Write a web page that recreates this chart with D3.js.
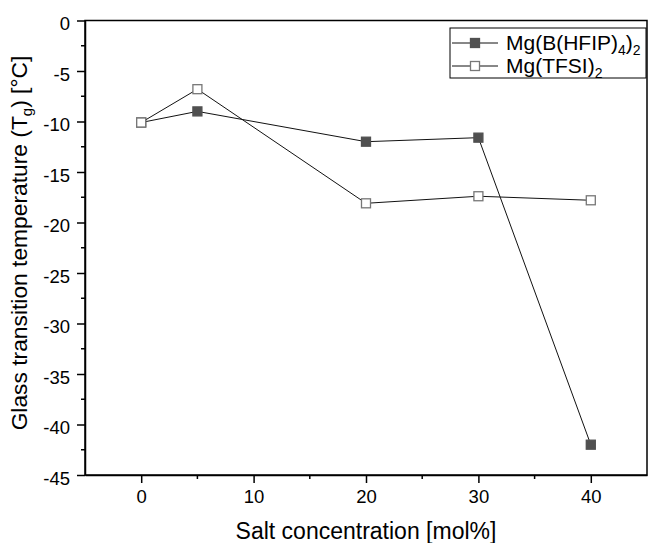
<!DOCTYPE html>
<html>
<head>
<meta charset="utf-8">
<script src="https://cdn.jsdelivr.net/npm/d3@7"></script>
<style>
  body { margin: 0; background: #fff; }
  text { font-family: "Liberation Sans", Arial, sans-serif; }
</style>
</head>
<body>
<div id="chart"></div>
<script>
// salt concentration (mol%) and Tg values per salt
const concentrations = [0, 5, 20, 30, 40];
const tgHFIP = [-10.1, -9.0, -12.0, -11.6, -42.0];
const tgTFSI = [-10.1, -6.8, -18.1, -17.4, -17.8];
const xTicks = [0, 10, 20, 30, 40];
const yTicks = [0, -5, -10, -15, -20, -25, -30, -35, -40, -45];

const W = 648, H = 543;
const margin = { left: 85, right: 1, top: 20.5, bottom: 68 };

const svg = d3.select("#chart").append("svg")
  .attr("width", W).attr("height", H);

const x = d3.scaleLinear().domain([-5, 45]).range([margin.left, W - margin.right]);
const y = d3.scaleLinear().domain([-45, 0]).range([H - margin.bottom, margin.top]);

// frame
svg.append("rect")
  .attr("x", x(-5)).attr("y", y(0))
  .attr("width", x(45) - x(-5)).attr("height", y(-45) - y(0))
  .attr("fill", "none").attr("stroke", "#000").attr("stroke-width", 1.5);

// minor ticks
svg.append("g").selectAll("line")
  .data(d3.range(-2.5, -45, -5))
  .join("line")
  .attr("x1", x(-5)).attr("x2", x(-5) - 4)
  .attr("y1", d => y(d)).attr("y2", d => y(d))
  .attr("stroke", "#000").attr("stroke-width", 1.5);
svg.append("g").selectAll("line")
  .data([5, 15, 25, 35])
  .join("line")
  .attr("x1", d => x(d)).attr("x2", d => x(d))
  .attr("y1", y(-45)).attr("y2", y(-45) + 4)
  .attr("stroke", "#000").attr("stroke-width", 1.5);

// axes (plain hyphen for negatives, like the original)
const fmt = d => String(d);
const yAxis = svg.append("g")
  .attr("transform", `translate(${x(-5)},0)`)
  .call(d3.axisLeft(y).tickValues(yTicks).tickFormat(fmt).tickSize(8).tickSizeOuter(0).tickPadding(7));
const xAxis = svg.append("g")
  .attr("transform", `translate(0,${y(-45)})`)
  .call(d3.axisBottom(x).tickValues(xTicks).tickFormat(fmt).tickSize(8).tickSizeOuter(0).tickPadding(7));
[xAxis, yAxis].forEach(g => {
  g.attr("font-size", 18.5).attr("font-family", "'Liberation Sans', Arial, sans-serif");
  g.select(".domain").attr("stroke-width", 1.5);
  g.selectAll(".tick line").attr("stroke-width", 1.5);
  g.selectAll("text").attr("fill", "#000");
});
yAxis.selectAll("text").attr("dy", "0.5em");

// axis titles
svg.append("text")
  .attr("x", x(20)).attr("y", 539)
  .attr("text-anchor", "middle").attr("font-size", 23)
  .text("Salt concentration [mol%]");

const yt = svg.append("text")
  .attr("transform", `translate(27,243) rotate(-90)`)
  .attr("text-anchor", "middle").attr("font-size", 22.8);
yt.append("tspan").text("Glass transition temperature (T");
yt.append("tspan").attr("font-size", 15).attr("dy", 5).text("g");
yt.append("tspan").attr("dy", -5).text(") [°C]");

const line = d3.line().x((d, i) => x(concentrations[i])).y(d => y(d));
const sq = 9;

function drawSeries(vals, fill, stroke) {
  svg.append("path").attr("d", line(vals))
    .attr("fill", "none").attr("stroke", "#111").attr("stroke-width", 1);
  svg.append("g").selectAll("rect")
    .data(vals).join("rect")
    .attr("x", (d, i) => x(concentrations[i]) - sq / 2)
    .attr("y", d => y(d) - sq / 2)
    .attr("width", sq).attr("height", sq)
    .attr("fill", fill).attr("stroke", stroke).attr("stroke-width", 1.3);
}
drawSeries(tgHFIP, "#505050", "#505050");
drawSeries(tgTFSI, "#fff", "#777");

// legend
const lg = svg.append("g");
lg.append("rect")
  .attr("x", 450).attr("y", 28).attr("width", 196).attr("height", 50)
  .attr("fill", "#fff").attr("stroke", "#000").attr("stroke-width", 1);
const legendItems = [
  { y: 43, fill: "#505050", stroke: "#505050", label: ["Mg(B(HFIP)", "4", ")", "2"] },
  { y: 66, fill: "#fff", stroke: "#777", label: ["Mg(TFSI)", "2"] }
];
legendItems.forEach(it => {
  lg.append("line").attr("x1", 452).attr("x2", 498).attr("y1", it.y).attr("y2", it.y)
    .attr("stroke", "#111").attr("stroke-width", 1);
  lg.append("rect").attr("x", 475 - sq / 2).attr("y", it.y - sq / 2)
    .attr("width", sq).attr("height", sq)
    .attr("fill", it.fill).attr("stroke", it.stroke).attr("stroke-width", 1.3);
  const t = lg.append("text").attr("x", 506).attr("y", it.y + 7).attr("font-size", 21);
  it.label.forEach((s, i) => {
    const sub = i % 2 === 1;
    t.append("tspan").attr("font-size", sub ? 14 : 21)
      .attr("dy", sub ? 5 : (i === 0 ? 0 : -5)).text(s);
  });
});
</script>
</body>
</html>
